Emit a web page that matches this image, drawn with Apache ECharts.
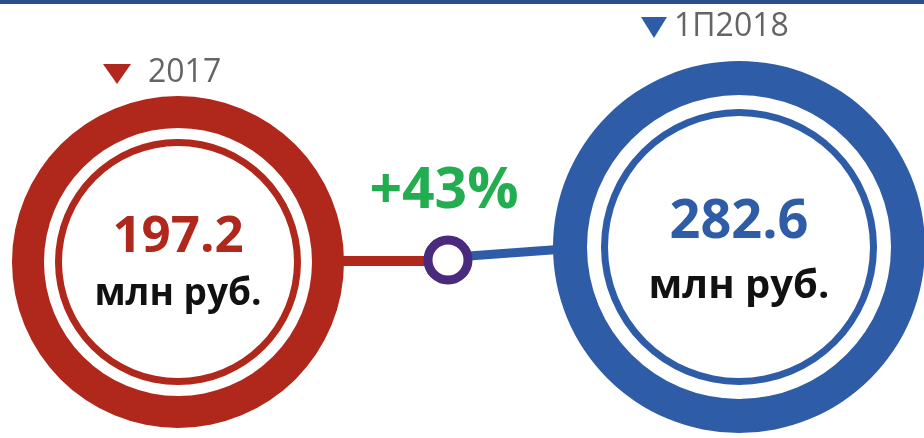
<!DOCTYPE html>
<html>
<head>
<meta charset="utf-8">
<script src="https://cdn.jsdelivr.net/npm/echarts@6/dist/echarts.min.js"></script>
<style>
html,body{margin:0;padding:0;background:#fff;}
#main{width:924px;height:438px;}
</style>
</head>
<body>
<div id="main"></div>
<script>
// ---- data ----
const categories = ['2017', '1П2018'];
const values = [197.2, 282.6];
const unitLabels = ['млн руб.', 'млн руб.'];

// ---- styling / layout ----
const RED = '#b0271b';
const BLUE = '#2f5ca6';
const PURPLE = '#4a2a7c';
const GREEN = '#22ad50';
const GRAY = '#646464';
const FONT = '"Open Sans", "Noto Sans", sans-serif';

const layout = [
  { center: [178, 262], thick: [134, 166], thin: [116, 123], color: RED, vSize: 51, uSize: 37, lh: 57, pad: 8,
    tri: [[103, 64], [131, 64], [117, 84]], tx: 148, ty: 73 },
  { center: [739, 247], thick: [152, 186], thin: [131, 138], color: BLUE, vSize: 54, uSize: 40, lh: 64, pad: 16,
    tri: [[641, 17], [667, 17], [654, 38]], tx: 674, ty: 27 }
];

const growth = Math.round((values[1] / values[0] - 1) * 100);
const growthLabel = (growth >= 0 ? '+' : '') + growth + '%';

const series = [];
categories.forEach((cat, i) => {
  const L = layout[i];
  series.push({
    type: 'pie',
    silent: true,
    center: L.center,
    radius: L.thick,
    startAngle: 90,
    data: [{ value: values[i], name: cat }],
    itemStyle: { color: L.color, borderWidth: 0 },
    labelLine: { show: false },
    emphasis: { disabled: true },
    label: {
      show: true,
      position: 'center',
      padding: [L.pad, 0, 0, 0],
      formatter: () => '{v|' + values[i].toFixed(1) + '}\n{u|' + unitLabels[i] + '}',
      rich: {
        v: { fontFamily: FONT, fontWeight: 'bold', fontSize: L.vSize, color: L.color, lineHeight: L.lh, align: 'center' },
        u: { fontFamily: FONT, fontWeight: 'bold', fontSize: L.uSize, color: '#111111', lineHeight: L.lh, align: 'center' }
      }
    }
  });
  series.push({
    type: 'pie',
    silent: true,
    center: L.center,
    radius: L.thin,
    data: [{ value: values[i], name: cat }],
    itemStyle: { color: L.color, borderWidth: 0 },
    label: { show: false },
    labelLine: { show: false },
    emphasis: { disabled: true }
  });
});

const graphic = [
  { type: 'rect', shape: { x: 0, y: 0, width: 924, height: 4 }, style: { fill: '#2c4d8c' }, z: 10 },
  { type: 'line', shape: { x1: 330, y1: 261, x2: 440, y2: 261 }, style: { stroke: RED, lineWidth: 10 }, z: 1 },
  { type: 'line', shape: { x1: 455, y1: 257, x2: 565, y2: 249 }, style: { stroke: BLUE, lineWidth: 9 }, z: 1 },
  { type: 'circle', shape: { cx: 448, cy: 260, r: 20 }, style: { fill: '#ffffff', stroke: PURPLE, lineWidth: 9 }, z: 5 },
  { type: 'text', x: 444, y: 192, z: 5,
    style: { text: growthLabel, fill: GREEN, font: 'bold 57px ' + FONT, textAlign: 'center', textVerticalAlign: 'middle' } }
];
categories.forEach((cat, i) => {
  const L = layout[i];
  graphic.push({ type: 'polygon', shape: { points: L.tri }, style: { fill: L.color }, z: 5 });
  graphic.push({ type: 'text', x: L.tx, y: L.ty, z: 5,
    style: { text: cat, fill: GRAY, font: '32px ' + FONT, textAlign: 'left', textVerticalAlign: 'middle' } });
});

const chart = echarts.init(document.getElementById('main'));
chart.setOption({
  animation: false,
  backgroundColor: '#ffffff',
  series: series,
  graphic: graphic
});
</script>
</body>
</html>
